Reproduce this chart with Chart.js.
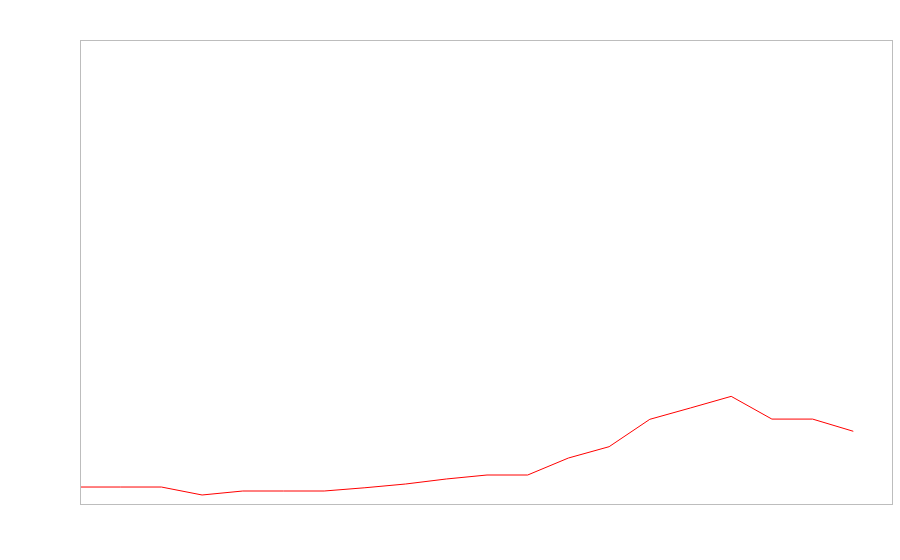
<!DOCTYPE html>
<html>
<head>
<meta charset="utf-8">
<script src="https://cdn.jsdelivr.net/npm/chart.js@4/dist/chart.umd.min.js"></script>
<style>
  html, body { margin: 0; padding: 0; background: #fff; }
  #wrap { width: 900px; height: 560px; }
</style>
</head>
<body>
<div id="wrap"><canvas id="c" width="900" height="560"></canvas></div>
<script>
const categories = ["2000","2001","2002","2003","2004","2005","2006","2007","2008","2009","2010",
                    "2011","2012","2013","2014","2015","2016","2017","2018","2019","2020"];
const seriesValues = [3.66, 3.66, 3.66, 1.94, 2.8, 2.8, 2.8, 3.5, 4.31, 5.39, 6.25,
                      6.25, 9.91, 12.35, 18.25, 20.7, 23.2, 18.3, 18.3, 15.67, null];
const yMin = 0;
const yMax = 100;

const frame = {
  id: 'frame',
  afterDraw(chart) {
    const a = chart.chartArea, ctx = chart.ctx;
    ctx.save();
    ctx.strokeStyle = '#bdbdbd';
    ctx.lineWidth = 1;
    const l = Math.round(a.left) + 0.5, t = Math.round(a.top) + 0.5;
    ctx.strokeRect(l, t, 892 - Math.round(a.left), Math.round(a.bottom - a.top));
    ctx.restore();
  }
};

new Chart(document.getElementById('c'), {
  type: 'line',
  data: {
    labels: categories,
    datasets: [{
      data: seriesValues,
      borderColor: '#ff0000',
      borderWidth: 1,
      pointRadius: 0,
      tension: 0,
      fill: false
    }]
  },
  options: {
    responsive: false,
    animation: false,
    layout: { padding: { left: 80, top: 40, right: 6, bottom: 56 } },
    plugins: { legend: { display: false }, tooltip: { enabled: false } },
    scales: {
      x: { display: false, offset: false },
      y: { display: false, min: yMin, max: yMax }
    }
  },
  plugins: [frame]
});
</script>
</body>
</html>
